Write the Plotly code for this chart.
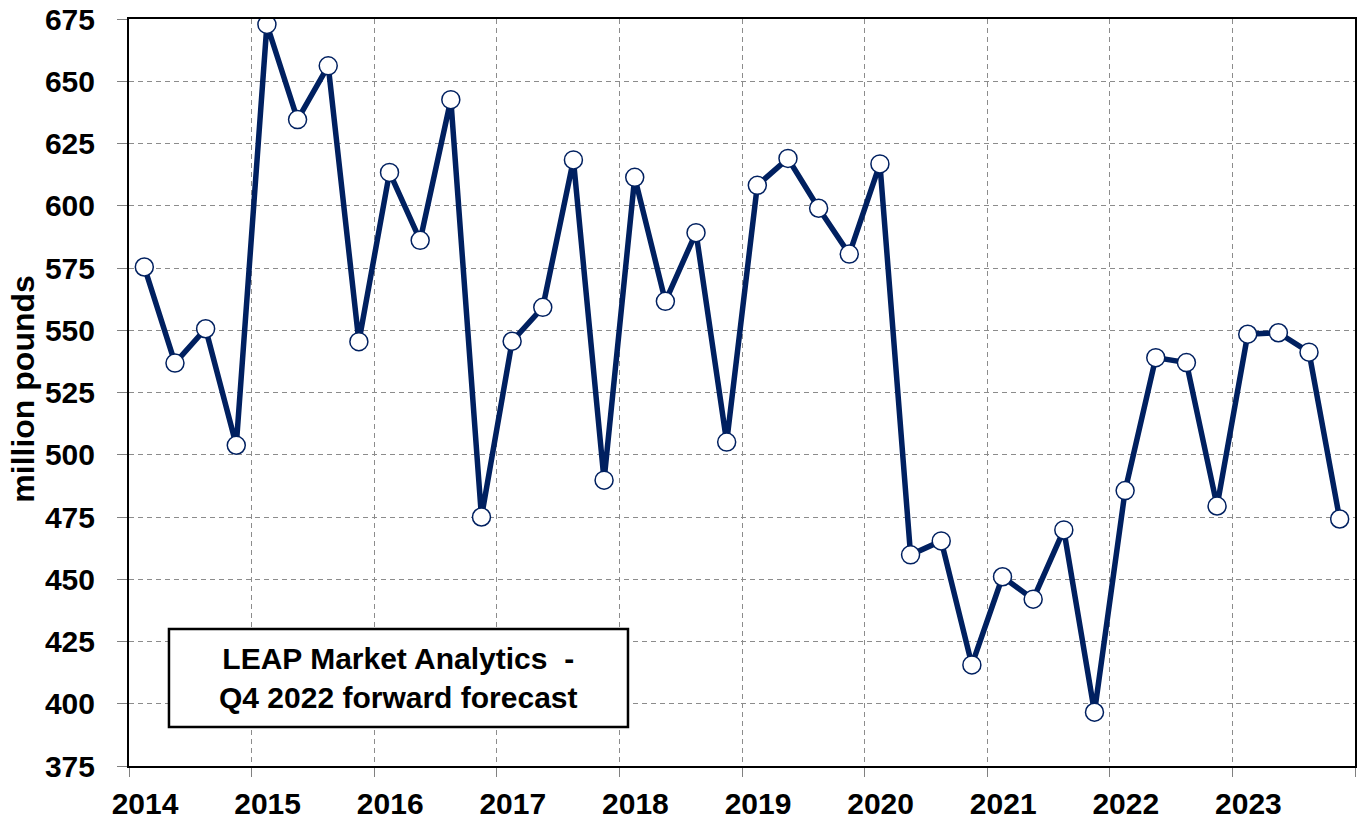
import plotly.graph_objects as go

# ---- data ----
years = [2014, 2015, 2016, 2017, 2018, 2019, 2020, 2021, 2022, 2023]
quarters = [1, 2, 3, 4]
values = [
    575.4, 536.8, 550.6, 503.8,   # 2014
    672.8, 634.6, 656.2, 545.4,   # 2015
    613.4, 586.1, 642.6, 475.0,   # 2016
    545.6, 559.2, 618.4, 489.8,   # 2017
    611.4, 561.6, 589.2, 505.1,   # 2018
    608.2, 619.0, 599.0, 580.6,   # 2019
    616.8, 459.8, 465.4, 415.6,   # 2020
    451.0, 442.0, 469.8, 396.6,   # 2021
    485.6, 539.0, 537.0, 479.4,   # 2022
    548.4, 549.0, 541.2, 474.2,   # 2023
]
x_tick_vals = [2014, 2015, 2016, 2017, 2018, 2019, 2020, 2021, 2022, 2023, 2024]
x_tick_text = ["2014", "2015", "2016", "2017", "2018", "2019", "2020", "2021", "2022", "2023", ""]
y_tick_vals = [375, 400, 425, 450, 475, 500, 525, 550, 575, 600, 625, 650, 675]
y_title = "million pounds"
note_text = "LEAP Market Analytics\u00a0 -<br>Q4 2022 forward forecast"

# x position = middle of each quarter
x_pos = [y + (q - 0.5) / 4 for y in years for q in quarters]

NAVY = "#002060"
FONT = "Arial, Liberation Sans, sans-serif"

fig = go.Figure()
fig.add_trace(go.Scatter(
    x=x_pos, y=values, mode="lines+markers",
    line=dict(color=NAVY, width=5.5),
    marker=dict(symbol="circle", size=18, color="white",
                line=dict(color=NAVY, width=1.5)),
    showlegend=False, hoverinfo="x+y",
))

fig.update_layout(
    width=1361, height=820,
    margin=dict(l=129, r=6, t=19, b=54),
    paper_bgcolor="white", plot_bgcolor="white",
    font=dict(family=FONT, color="black"),
    xaxis=dict(
        range=[2014, 2024], tickmode="array",
        tickvals=x_tick_vals, ticktext=x_tick_text,
        ticks="outside", ticklen=9, tickcolor="#808080", tickwidth=1,
        tickfont=dict(size=30, family=FONT, weight="bold", color="black"),
        ticklabelshift=16, ticklabelstandoff=1,
        showgrid=True, gridcolor="#8c8c8c", gridwidth=1, griddash="5px,4px",
        showline=True, linecolor="black", linewidth=2, mirror=True,
        zeroline=False, automargin=False,
    ),
    yaxis=dict(
        range=[375, 675], tickmode="array", tickvals=y_tick_vals,
        ticks="outside", ticklen=10, tickcolor="#808080", tickwidth=1,
        tickfont=dict(size=30, family=FONT, weight="bold", color="black"),
        ticklabelstandoff=16,
        showgrid=True, gridcolor="#8c8c8c", gridwidth=1, griddash="5px,4px",
        showline=True, linecolor="black", linewidth=2, mirror=True,
        zeroline=False, automargin=False,
    ),
)

# y axis title
fig.add_annotation(
    text=y_title, xref="paper", yref="paper",
    x=-0.0865, y=0.505, xanchor="center", yanchor="middle",
    textangle=-90, showarrow=False,
    font=dict(size=32, family=FONT, weight="bold", color="black"),
)

# note box
fig.add_shape(
    type="rect", xref="paper", yref="paper",
    x0=0.0326, x1=0.407, y0=0.0522, y1=0.1834,
    line=dict(color="black", width=2.5), fillcolor="white", layer="above",
)
fig.add_annotation(
    text=note_text, xref="paper", yref="paper",
    x=0.2198, y=0.1178, xanchor="center", yanchor="middle",
    showarrow=False, align="center",
    font=dict(size=30, family=FONT, weight="bold", color="black"),
)

fig.write_html(
    "out.html",
    config={"displayModeBar": False},
    post_script="document.body.style.margin='0';document.body.style.overflow='hidden';",
)
